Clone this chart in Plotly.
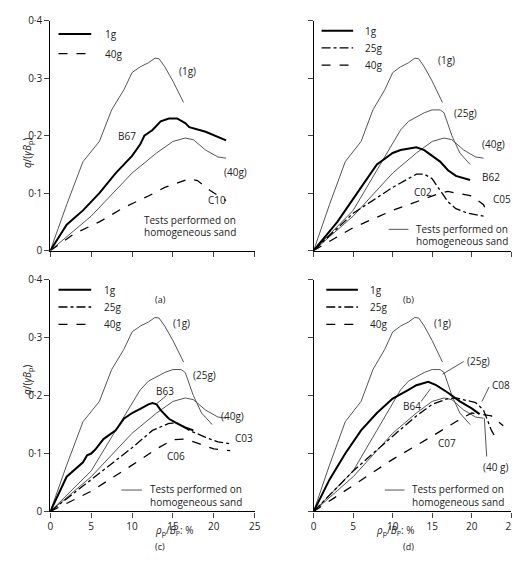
import plotly.graph_objects as go

# Homogeneous sand reference curves (same in all panels)
h1_x = [0, 2, 4, 6, 7.5, 9, 10, 11, 12, 12.8, 13.3, 14, 15, 16.3]
h1_y = [0, 0.08, 0.155, 0.19, 0.245, 0.28, 0.31, 0.32, 0.327, 0.335, 0.334, 0.32, 0.295, 0.258]
h25_x = [0, 5, 8, 11, 12, 14, 15, 16, 16.5, 17.5, 18.5, 19.8]
h25_y = [0, 0.07, 0.14, 0.21, 0.225, 0.24, 0.245, 0.245, 0.24, 0.2, 0.17, 0.15]
h40_x = [0, 5, 10, 13, 15, 16.5, 17.5, 19, 20.5, 21.5]
h40_y = [0, 0.06, 0.135, 0.17, 0.19, 0.196, 0.193, 0.175, 0.163, 0.161]

# Panel (a)
b67_x = [0, 2, 4, 6, 8, 10, 11, 11.5, 12.5, 13.5, 14.5, 15.5, 16.5, 17, 19, 21.5]
b67_y = [0, 0.045, 0.07, 0.1, 0.135, 0.165, 0.185, 0.2, 0.21, 0.225, 0.23, 0.23, 0.222, 0.215, 0.207, 0.192]
c10_x = [0, 3, 6, 9, 12, 14, 16, 17, 18, 19.5, 21.5]
c10_y = [0, 0.03, 0.05, 0.075, 0.095, 0.11, 0.12, 0.125, 0.122, 0.105, 0.087]
# Panel (b)
b62_x = [0, 3, 6, 8, 9, 10, 11, 12, 13, 14, 15, 16, 17, 18, 19.8]
b62_y = [0, 0.05, 0.11, 0.15, 0.16, 0.17, 0.175, 0.178, 0.18, 0.175, 0.165, 0.155, 0.14, 0.13, 0.123]
c02_x = [0, 5, 10, 12, 13, 14, 15, 16, 17, 18, 19.5, 21.5]
c02_y = [0, 0.065, 0.11, 0.125, 0.133, 0.133, 0.125, 0.105, 0.085, 0.073, 0.065, 0.06]
c05_x = [0, 5, 10, 13, 16, 17, 18, 20, 21.5, 21.8]
c05_y = [0, 0.04, 0.07, 0.085, 0.1, 0.103, 0.1, 0.095, 0.08, 0.07]
# Panel (c)
b63_x = [0, 2, 4, 4.5, 5, 5.5, 6.5, 8, 9, 10, 11, 12, 12.5, 13, 13.5, 14, 14.5, 15.5, 16.5, 17.5]
b63_y = [0, 0.06, 0.085, 0.097, 0.1, 0.107, 0.125, 0.14, 0.16, 0.17, 0.177, 0.185, 0.187, 0.185, 0.175, 0.168, 0.16, 0.152, 0.145, 0.14]
c03_x = [0, 5, 10, 12.5, 14.5, 15.5, 17, 19, 20.5, 22]
c03_y = [0, 0.055, 0.11, 0.14, 0.152, 0.153, 0.14, 0.128, 0.12, 0.117]
c06_x = [0, 5, 10, 13, 15, 16.5, 18, 20, 22]
c06_y = [0, 0.035, 0.08, 0.108, 0.124, 0.125, 0.118, 0.108, 0.105]
# Panel (d)
b64_x = [0, 2, 4, 6, 8, 10, 12, 13, 14.5, 15.5, 17, 18.5, 20, 21]
b64_y = [0, 0.055, 0.1, 0.14, 0.17, 0.195, 0.21, 0.218, 0.224, 0.218, 0.205, 0.19, 0.178, 0.168]
c08_x = [0, 5, 10, 13, 15, 17, 18, 19, 20.5, 21.5, 22.5, 23]
c08_y = [0, 0.07, 0.13, 0.165, 0.185, 0.195, 0.196, 0.193, 0.188, 0.175, 0.14, 0.128]
c07_x = [0, 5, 10, 15, 18, 20, 21, 22.5, 24]
c07_y = [0, 0.045, 0.09, 0.13, 0.155, 0.17, 0.168, 0.165, 0.148]

y_ticks = [0, 0.1, 0.2, 0.3, 0.4]
y_labels = ["0", "0·1", "0·2", "0·3", "0·4"]
x_ticks = [0, 5, 10, 15, 20, 25]

FONT = "Open Sans"
GREY = "#555555"
fig = go.Figure()

panels = {
    1: dict(xd=[40/520, 248/520], yd=[1-241/564, 1-5/564]),
    2: dict(xd=[308/520, 509/520], yd=[1-241/564, 1-5/564]),
    3: dict(xd=[40/520, 248/520], yd=[1-509/564, 1-271/564]),
    4: dict(xd=[308/520, 509/520], yd=[1-509/564, 1-271/564]),
}

STYLES = {"h": dict(color=GREY, width=1),
          "1g": dict(color="black", width=2),
          "25g": dict(color="black", width=1.3, dash="dashdot"),
          "40g": dict(color="black", width=1.3, dash="dash")}

def ax(i):
    return ("x" if i == 1 else f"x{i}", "y" if i == 1 else f"y{i}")

def line(i, x, y, kind):
    xa, ya = ax(i)
    fig.add_trace(go.Scatter(x=x, y=y, mode="lines", line=STYLES[kind], xaxis=xa, yaxis=ya,
                             showlegend=False, hoverinfo="skip"))

def txt(i, x, y, s, anchor="left"):
    xa, ya = ax(i)
    fig.add_annotation(x=x, y=y, xref=xa, yref=ya, text=s, showarrow=False,
                       xanchor=anchor, font=dict(family=FONT, size=10, color="#222"))

def seg(i, x0, y0, x1, y1, kind="h"):
    xa, ya = ax(i)
    fig.add_shape(type="line", x0=x0, y0=y0, x1=x1, y1=y1, xref=xa, yref=ya, line=STYLES[kind])

for i in range(1, 5):
    line(i, h1_x, h1_y, "h")
    if i != 1:
        line(i, h25_x, h25_y, "h")
    line(i, h40_x, h40_y, "h")

line(1, b67_x, b67_y, "1g"); line(1, c10_x, c10_y, "40g")
line(2, b62_x, b62_y, "1g"); line(2, c02_x, c02_y, "25g"); line(2, c05_x, c05_y, "40g")
line(3, b63_x, b63_y, "1g"); line(3, c03_x, c03_y, "25g"); line(3, c06_x, c06_y, "40g")
line(4, b64_x, b64_y, "1g"); line(4, c08_x, c08_y, "25g"); line(4, c07_x, c07_y, "40g")

# legends
seg(1, 1, 0.377, 5, 0.377, "1g"); txt(1, 6.5, 0.377, "1g")
seg(1, 1, 0.343, 5, 0.343, "40g"); txt(1, 6.5, 0.343, "40g")
for i in (2, 3, 4):
    off = 0.9 if i == 4 else 0.3
    seg(i, off + 0.7, 0.383, off + 4.7, 0.383, "1g"); txt(i, off + 6, 0.383, "1g")
    seg(i, off + 0.7, 0.353, off + 4.7, 0.353, "25g"); txt(i, off + 6, 0.353, "25g")
    seg(i, off + 0.7, 0.323, off + 4.7, 0.323, "40g"); txt(i, off + 6, 0.323, "40g")

# homogeneous sand notes
txt(1, 11.2, 0.053, "Tests performed on"); txt(1, 11.2, 0.032, "homogeneous sand")
for i, x0 in ((2, 9.5), (3, 8.7), (4, 9.0)):
    seg(i, x0, 0.037, x0 + 2.5, 0.037)
    txt(i, x0 + 3.2, 0.038, "Tests performed on"); txt(i, x0 + 3.2, 0.017, "homogeneous sand")

# curve labels
txt(1, 15.5, 0.313, "(1g)"); txt(1, 21, 0.136, "(40g)"); txt(1, 19, 0.088, "C10"); txt(1, 8, 0.2, "B67")
txt(2, 15.5, 0.332, "(1g)"); txt(2, 17.5, 0.24, "(25g)"); txt(2, 21, 0.185, "(40g)")
txt(2, 21, 0.128, "B62"); txt(2, 12.5, 0.102, "C02"); txt(2, 22.5, 0.089, "C05")
txt(3, 14.8, 0.325, "(1g)"); txt(3, 17.2, 0.236, "(25g)"); txt(3, 20.6, 0.165, "(40g)")
txt(3, 12.7, 0.208, "B63"); seg(3, 14.2, 0.2, 13.0, 0.186)
txt(3, 22.3, 0.126, "C03"); txt(3, 14, 0.096, "C06")
txt(4, 15, 0.325, "(1g)"); txt(4, 19.2, 0.259, "(25g)"); seg(4, 19, 0.259, 16.3, 0.237)
txt(4, 11.1, 0.182, "B64"); seg(4, 13.6, 0.19, 14.8, 0.212)
txt(4, 22.3, 0.219, "C08"); seg(4, 22.2, 0.215, 21.3, 0.19)
txt(4, 15.5, 0.118, "C07"); txt(4, 21.2, 0.077, "(40 g)"); seg(4, 21.9, 0.095, 21.6, 0.161)

layout = dict(autosize=True, margin=dict(l=0, r=0, t=0, b=0),
              plot_bgcolor="white", paper_bgcolor="white",
              font=dict(family=FONT, size=10, color="#222"))
for i, p in panels.items():
    xk = "xaxis" if i == 1 else f"xaxis{i}"
    yk = "yaxis" if i == 1 else f"yaxis{i}"
    xa, ya = ax(i)
    layout[xk] = dict(domain=p["xd"], range=[0, 25], anchor=ya, tickvals=x_ticks,
                      showticklabels=i in (3, 4), ticks="outside", ticklen=5, showgrid=False,
                      zeroline=False, showline=True, linecolor="black", linewidth=1.2,
                      tickfont=dict(size=10))
    layout[yk] = dict(domain=p["yd"], range=[0, 0.4], anchor=xa, tickvals=y_ticks, ticktext=y_labels,
                      showticklabels=i in (1, 3), ticks="outside", ticklen=5, showgrid=False,
                      zeroline=False, showline=True, linecolor="black", linewidth=1.2,
                      tickfont=dict(size=10))
fig.update_layout(**layout)

for s, x, y in (("(a)", 144, 291), ("(b)", 412, 291), ("(c)", 144, 554), ("(d)", 412, 554)):
    fig.add_annotation(x=x/520, y=1-y/564, xref="paper", yref="paper", text=s, showarrow=False,
                       font=dict(family=FONT, size=9))
for x in (144, 412):
    fig.add_annotation(x=x/520, y=1-538/564, xref="paper", yref="paper",
                       text="<i>ρ</i><sub>p</sub>/<i>B</i><sub>P</sub>: %", showarrow=False,
                       font=dict(family=FONT, size=10))
for y in (123, 391):
    fig.add_annotation(x=7/520, y=1-y/564, xref="paper", yref="paper",
                       text="<i>q</i>/(<i>γB</i><sub>p</sub>)", textangle=-90, showarrow=False,
                       font=dict(family=FONT, size=10))

fig.write_html("out.html", default_width="100vw", default_height="100vh", config={"responsive": True})
